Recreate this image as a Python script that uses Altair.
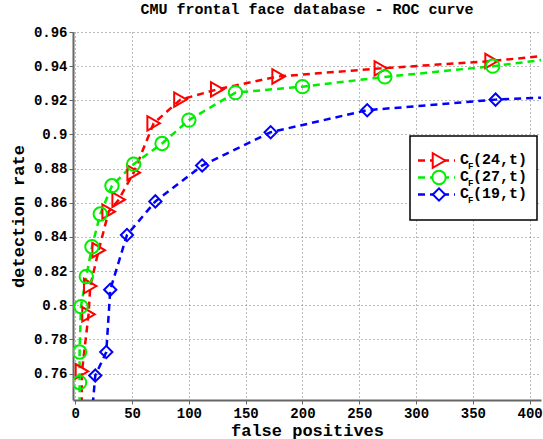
import altair as alt
import pandas as pd

# ---- data ----
series_names = ["C_F(24,t)", "C_F(27,t)", "C_F(19,t)"]

fp_24 = [5.9, 11.7, 13.2, 20.6, 29.4, 38.2, 51.4, 69.0, 92.6, 125.0, 179.0, 269.0, 366.5]
dr_24 = [0.7613, 0.7947, 0.8112, 0.8322, 0.8548, 0.8618, 0.8776, 0.9065, 0.9204, 0.9264, 0.9340, 0.9387, 0.9430]

fp_27 = [3.8, 3.8, 5.0, 9.7, 14.7, 22.0, 32.3, 51.4, 76.4, 100.0, 141.0, 200.0, 272.5, 367.5]
dr_27 = [0.7547, 0.7726, 0.7992, 0.8168, 0.8342, 0.8534, 0.8700, 0.8826, 0.8947, 0.9084, 0.9245, 0.9280, 0.9337, 0.9400]

fp_19 = [17.6, 27.3, 30.8, 45.5, 70.5, 111.7, 172.0, 257.0, 370.0]
dr_19 = [0.7588, 0.7726, 0.8091, 0.8411, 0.8608, 0.8818, 0.9013, 0.9142, 0.9204]

# curve points without markers (the curves run past the visible range)
tail_start = {"C_F(24,t)": (5.5, 0.735), "C_F(27,t)": (3.8, 0.735), "C_F(19,t)": (14.5, 0.735)}
tail_end = {"C_F(24,t)": (412.0, 0.9460), "C_F(27,t)": (412.0, 0.9437), "C_F(19,t)": (412.0, 0.9216)}

colors = ["#ff0000", "#00ee00", "#0000ff"]
shapes = ["triangle-right", "circle", "diamond"]
marker_sizes = [210, 150, 170]
legend_num = ["(24,t)", "(27,t)", "(19,t)"]

x_ticks = [0, 50, 100, 150, 200, 250, 300, 350, 400]
y_ticks = [0.76, 0.78, 0.80, 0.82, 0.84, 0.86, 0.88, 0.90, 0.92, 0.94, 0.96]

FONT = "Liberation Mono"

rows = []
for name, xs, ys in zip(series_names, [fp_24, fp_27, fp_19], [dr_24, dr_27, dr_19]):
    s = tail_start[name]
    rows.append({"series": name, "fp": s[0], "dr": s[1], "order": 0, "marker": False})
    for i, (x, y) in enumerate(zip(xs, ys)):
        rows.append({"series": name, "fp": x, "dr": y, "order": i + 1, "marker": True})
    e = tail_end[name]
    rows.append({"series": name, "fp": e[0], "dr": e[1], "order": 999, "marker": False})
df = pd.DataFrame(rows)

xscale = alt.Scale(domain=[-2, 410], nice=False, zero=False)
yscale = alt.Scale(domain=[0.7445, 0.96], nice=False, zero=False)
cscale = alt.Scale(domain=series_names, range=colors)
sscale = alt.Scale(domain=series_names, range=shapes)
zscale = alt.Scale(domain=series_names, range=marker_sizes)

x_enc = alt.X("fp:Q", scale=xscale,
              axis=alt.Axis(values=x_ticks, title="false positives", format="d"))
y_enc = alt.Y("dr:Q", scale=yscale,
              axis=alt.Axis(values=y_ticks, title="detection rate", format="~g"))

base = alt.Chart(df)

lines = base.mark_line(strokeWidth=2.5, strokeDash=[7, 5], clip=True).encode(
    x=x_enc, y=y_enc,
    color=alt.Color("series:N", scale=cscale, legend=None),
    detail="series:N",
    order="order:Q",
)

points = base.transform_filter("datum.marker").mark_point(
    filled=False, strokeWidth=2, clip=True, opacity=1
).encode(
    x=x_enc, y=y_enc,
    color=alt.Color("series:N", scale=cscale, legend=None),
    shape=alt.Shape("series:N", scale=sscale, legend=None),
    size=alt.Size("series:N", scale=zscale, legend=None),
)

data_layer = alt.layer(lines, points)

# ---- custom legend (MATLAB style box with subscript) ----
leg_df = pd.DataFrame({
    "series": series_names,
    "num": legend_num,
    "row": [0, 1, 2],
})
leg_base = alt.Chart(leg_df)
ROW0, DY = 120, 25.5
row_y = alt.Y("row:O", scale=alt.Scale(domain=[0, 1, 2], range=[ROW0, ROW0 + 2 * DY]), axis=None)

box = alt.Chart(pd.DataFrame({"a": [0]})).mark_rect(
    fill="white", stroke="black", strokeWidth=1.5
).encode(x=alt.value(337), x2=alt.value(464), y=alt.value(104), y2=alt.value(188))

leg_line = leg_base.mark_rule(strokeWidth=2.5, strokeDash=[7, 5]).encode(
    x=alt.value(345), x2=alt.value(382), y=row_y,
    color=alt.Color("series:N", scale=cscale, legend=None),
)
leg_pt = leg_base.mark_point(filled=False, strokeWidth=2, opacity=1, fill="white").encode(
    x=alt.value(366), y=row_y,
    color=alt.Color("series:N", scale=cscale, legend=None),
    shape=alt.Shape("series:N", scale=sscale, legend=None),
    size=alt.Size("series:N", scale=zscale, legend=None),
)
leg_c = leg_base.mark_text(text="C", font=FONT, fontWeight="bold", fontSize=15,
                           align="left", baseline="middle", dy=-2).encode(
    x=alt.value(387), y=row_y,
)
leg_f = leg_base.mark_text(text="F", font=FONT, fontWeight="bold", fontSize=9,
                           align="left", baseline="middle", dy=5).encode(
    x=alt.value(395), y=row_y,
)
leg_n = leg_base.mark_text(font=FONT, fontWeight="bold", fontSize=15,
                           align="left", baseline="middle", dy=-2).encode(
    x=alt.value(400), y=row_y, text="num:N",
)

legend = alt.layer(box, leg_line, leg_pt, leg_c, leg_f, leg_n)

chart = alt.layer(data_layer, legend).resolve_scale(
    y="independent"
).properties(
    width=468, height=368,
    title=alt.TitleParams("CMU frontal face database - ROC curve", font=FONT,
                          fontSize=15, fontWeight="bold", anchor="middle", offset=8),
    autosize="none",
    padding={"left": 73, "top": 32, "right": 2, "bottom": 39},
).configure_view(stroke=None).configure_axis(
    labelFont=FONT, labelFontWeight="bold", labelFontSize=14, labelColor="black",
    titleFont=FONT, titleFontWeight="bold", titleFontSize=17, titleColor="black",
    grid=True, gridColor="#777777", gridDash=[1, 3], gridWidth=1,
    domainColor="#666666", domainWidth=2, tickColor="#666666", tickSize=4,
    labelPadding=2,
).configure_axisX(titlePadding=2).configure_axisY(titlePadding=6)

chart.save("out.html", embed_options={"renderer": "svg", "actions": False})
